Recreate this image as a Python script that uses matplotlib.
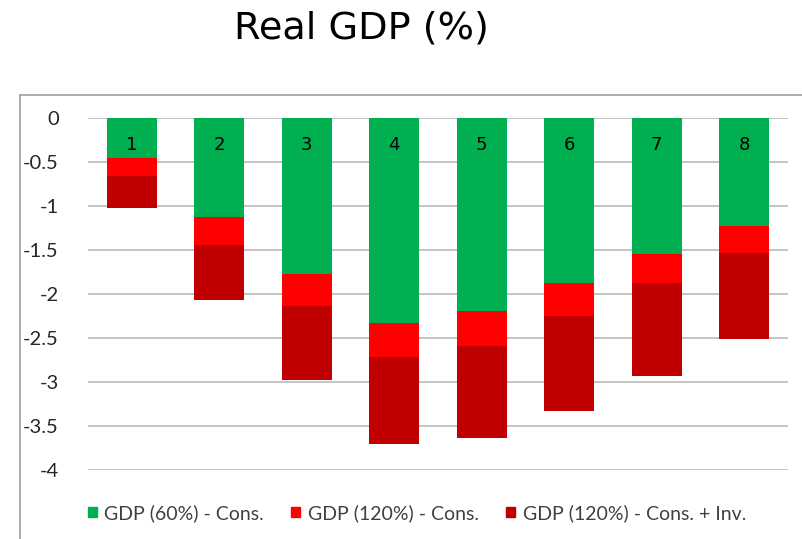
import numpy as np
import matplotlib.pyplot as plt
from matplotlib.lines import Line2D
from matplotlib.patches import Patch

# 값 (음수: 감소율 %)
labels = ['1', '2', '3', '4', '5', '6', '7', '8']
gdp60_cons = [-0.46, -1.13, -1.77, -2.33, -2.19, -1.88, -1.54, -1.23]
gdp120_cons = [-0.20, -0.31, -0.37, -0.39, -0.40, -0.37, -0.34, -0.30]
gdp120_inv = [-0.36, -0.63, -0.84, -0.98, -1.05, -1.08, -1.05, -0.98]
series_names = ['GDP (60%) - Cons.', 'GDP (120%) - Cons.', 'GDP (120%) - Cons. + Inv.']
colors = ['#00B050', '#FF0000', '#C00000']

W, H = 803, 539
fig = plt.figure(figsize=(W / 100, H / 100), dpi=100)
ax = fig.add_axes([88 / W, 1 - 470 / H, 700 / W, 352 / H])

x = np.arange(len(labels))
g = np.array(gdp60_cons)
r = np.array(gdp120_cons)
d = np.array(gdp120_inv)
ax.bar(x, g, width=0.57, color=colors[0], zorder=2)
ax.bar(x, r, width=0.57, bottom=g, color=colors[1], zorder=2)
ax.bar(x, d, width=0.57, bottom=g + r, color=colors[2], zorder=2)

# 막대 안의 번호
for xi, lab in zip(x, labels):
    ax.text(xi, -0.31, lab, ha='center', va='center', fontsize=13,
            family='DejaVu Sans', color='black', zorder=3)

ax.set_xlim(-0.5, 7.5)
ax.set_ylim(-4, 0)
ax.set_yticks([0, -0.5, -1, -1.5, -2, -2.5, -3, -3.5, -4])
ax.set_yticklabels(['0', '-0.5', '-1', '-1.5', '-2', '-2.5', '-3', '-3.5', '-4'])
ax.set_xticks([])
ax.yaxis.grid(True, color='#BFBFBF', lw=1.3, zorder=0)
ax.tick_params(axis='y', length=0, pad=21, labelsize=14.5)
for t in ax.get_yticklabels():
    t.set_family('Lato')
    t.set_color('#262626')
for s in ax.spines.values():
    s.set_visible(False)

# 바깥 테두리
fig.add_artist(Line2D([20 / W, 20 / W], [0, 1 - 95 / H], color='#A6A6A6', lw=1.3))
fig.add_artist(Line2D([20 / W, 1], [1 - 95 / H, 1 - 95 / H], color='#A6A6A6', lw=1.3))

fig.text(361 / W, 1 - 29 / H, 'Real GDP (%)', ha='center', va='center',
         fontsize=27.5, family='DejaVu Sans')

handles = [Patch(color=c) for c in colors]
leg = fig.legend(handles, series_names, loc='center', bbox_to_anchor=(417 / W, 1 - 513 / H),
                 ncol=3, frameon=False, handlelength=0.45, handleheight=0.45,
                 handletextpad=0.4, columnspacing=1.4, prop={'family': 'Lato', 'size': 14})
for t in leg.get_texts():
    t.set_color('#404040')

fig.savefig('out.png', dpi=100)
